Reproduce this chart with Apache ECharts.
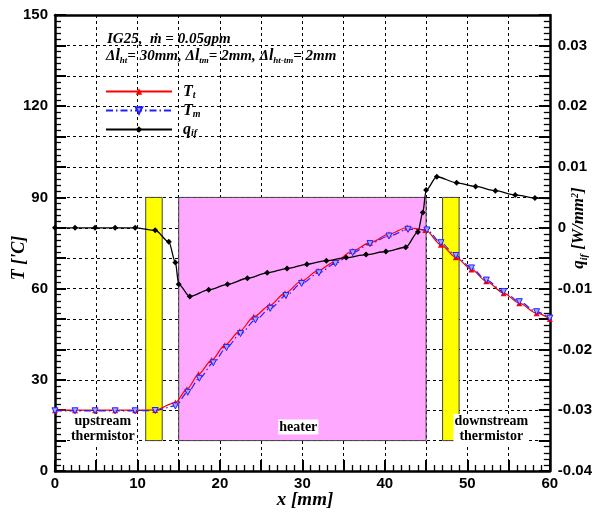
<!DOCTYPE html>
<html>
<head>
<meta charset="utf-8">
<script src="https://cdn.jsdelivr.net/npm/echarts@6/dist/echarts.min.js"></script>
<style>
  html, body { margin: 0; padding: 0; background: #fff; }
  #chart { width: 595px; height: 514px; }
</style>
</head>
<body>
<div id="chart"></div>
<script>
// Axial position along the test section [mm]
const xTt = [0, 2.43, 4.86, 7.29, 9.72, 12.15, 14.6, 16.0, 17.4, 19.0, 20.6, 22.4, 24.1, 26.0, 27.9, 29.9,
             31.9, 33.9, 36.1, 38.2, 40.5, 42.7, 44.9, 46.8, 48.6, 50.5, 52.3, 54.4, 56.3, 58.4, 60.0];
// Tube wall temperature T_t ['C]
const Tt  = [20.0, 20.0, 20.0, 20.0, 20.0, 20.1, 22.5, 26.9, 31.8, 36.5, 41.4, 46.0, 50.7, 54.4, 58.5, 62.5,
             65.9, 68.8, 72.4, 75.1, 77.9, 80.1, 79.3, 74.4, 70.3, 66.3, 62.4, 58.5, 55.2, 51.9, 50.0];

const xTm = [0, 2.43, 4.86, 7.29, 9.72, 12.15, 14.6, 16.1, 17.5, 19.2, 20.8, 22.5, 24.3, 26.1, 28.0, 29.9,
             32.0, 34.0, 36.1, 38.2, 40.5, 42.8, 45.1, 46.8, 48.6, 50.5, 52.3, 54.4, 56.3, 58.4, 60.0];
// Mean fluid temperature T_m ['C]
const Tm  = [19.8, 19.8, 19.8, 19.8, 19.8, 19.9, 21.4, 25.9, 30.5, 35.6, 40.6, 45.2, 49.7, 53.5, 57.7, 61.7,
             65.2, 68.3, 71.8, 74.8, 77.3, 79.5, 79.3, 75.1, 70.9, 66.8, 62.8, 59.0, 55.7, 52.4, 50.3];

const xQ  = [0, 2.43, 4.86, 7.29, 9.72, 12.15, 13.8, 14.6, 15.0, 16.35, 18.64, 20.92, 23.33, 25.73, 28.14,
             30.54, 32.91, 35.31, 37.72, 40.12, 42.53, 44.0, 44.6, 45.0, 46.3, 48.7, 51.0, 53.4, 55.8, 58.2, 60.0];
// Interfacial heat flux q_if [W/mm^2]
const qIf = [0, 0, 0, 0, 0, -0.0004, -0.0023, -0.0057, -0.0093, -0.0113, -0.0102, -0.0093, -0.0083, -0.0074,
             -0.0067, -0.0060, -0.0054, -0.0049, -0.0044, -0.0039, -0.0032, -0.0007, 0.0025, 0.0062, 0.0084,
             0.0074, 0.0068, 0.0061, 0.0054, 0.0049, 0.0048];

// Component extents: [x start, x end] in mm, drawn from T = 10 to 90
const upThermistor   = [11, 13];
const heater         = [15, 45];
const downThermistor = [47, 49];
const blockT         = [10, 90];

const serif = '"Liberation Serif", "Times New Roman", serif';
const sans  = '"Liberation Sans", Arial, sans-serif';

const pairs = (xs, ys) => xs.map((x, i) => [x, ys[i]]);
const qData = pairs(xQ, qIf).map((p, i) => i === xQ.length - 1 ? { value: p, symbol: 'none' } : p);

const rectStyle = color => ({ color: color, borderColor: '#444', borderWidth: 1, opacity: 1 });
const block = (xr, color) => [
  { xAxis: xr[0], yAxis: blockT[0], itemStyle: rectStyle(color) },
  { xAxis: xr[1], yAxis: blockT[1] }
];

const boxLabel = {
  show: true, position: 'inside', color: '#000', fontFamily: serif, fontWeight: 'bold',
  fontSize: 14, lineHeight: 15, backgroundColor: '#fff', padding: [0, 1], align: 'center'
};

const tickLabel = { color: '#000', fontFamily: sans, fontWeight: 'bold', fontSize: 15 };
const frame = { show: true, onZero: false, lineStyle: { color: '#000', width: 2.5 } };
const majorTick = { inside: true, length: 11, lineStyle: { color: '#000', width: 2 } };
const minorTick = { show: true, splitNumber: 5, length: 6, lineStyle: { color: '#000', width: 1.3 } };
const gridLine = { show: true, lineStyle: { color: '#000', width: 1, type: [3, 3] } };

const chart = echarts.init(document.getElementById('chart'), null, { renderer: 'canvas' });

chart.setOption({
  animation: false,
  backgroundColor: '#fff',
  grid: { left: 55, right: 41, top: 15, bottom: 43 },
  xAxis: [{
    type: 'value', min: 0, max: 60, interval: 5,
    axisLine: frame, axisTick: majorTick, minorTick: minorTick,
    axisLabel: Object.assign({ margin: 5, formatter: v => (v % 10 === 0 ? String(v) : '') }, tickLabel),
    splitLine: gridLine
  }, {
    type: 'value', min: 0, max: 60, position: 'top',
    axisLine: frame,
    axisTick: { show: false }, axisLabel: { show: false }, splitLine: { show: false }
  }],
  yAxis: [{
    type: 'value', min: 0, max: 150, interval: 10,
    axisLine: frame, axisTick: majorTick, minorTick: minorTick,
    axisLabel: Object.assign({ margin: 7, formatter: v => (v % 30 === 0 ? String(v) : '') }, tickLabel),
    splitLine: gridLine
  }, {
    type: 'value', min: -0.04, max: 0.035, interval: 0.005, position: 'right',
    axisLine: frame, axisTick: majorTick, minorTick: minorTick,
    axisLabel: Object.assign({
      margin: 8,
      formatter: v => {
        const k = Math.round(v * 1000);
        if (k % 10 !== 0) return '';
        return k === 0 ? '0' : (k / 1000).toFixed(2);
      }
    }, tickLabel),
    splitLine: { show: false }
  }],
  legend: {
    orient: 'vertical', left: 100, top: 78, itemWidth: 66, itemHeight: 8, itemGap: 2,
    data: ['Tt', 'Tm', 'qif'],
    textStyle: {
      padding: [0, 0, 0, 6],
      rich: {
        m: { fontFamily: serif, fontStyle: 'italic', fontWeight: 'bold', fontSize: 16, color: '#000', lineHeight: 16 },
        s: { fontFamily: serif, fontStyle: 'italic', fontWeight: 'bold', fontSize: 10, color: '#000', lineHeight: 16, padding: [7, 0, 0, 0] }
      }
    },
    formatter: name => ({ Tt: '{m|T}{s|t}', Tm: '{m|T}{s|m}', qif: '{m|q}{s|if}' }[name])
  },
  series: [
    {
      name: 'blocks', type: 'line', data: [], z: 1, silent: true,
      markArea: {
        silent: true,
        label: { show: false },
        data: [block(upThermistor, '#ffff00'), block(heater, '#ffa8ff'), block(downThermistor, '#ffff00')]
      },
      markPoint: {
        symbol: 'rect', symbolSize: 0, silent: true,
        label: boxLabel,
        data: [
          { coord: [5.8, 13.8], value: 'upstream\nthermistor', label: { formatter: 'upstream\nthermistor' } },
          { coord: [29.5, 14.5], value: 'heater', label: { formatter: 'heater' } },
          { coord: [52.9, 13.8], value: 'downstream\nthermistor', label: { formatter: 'downstream\nthermistor' } }
        ]
      }
    },
    {
      name: 'Tt', type: 'line', z: 3, data: pairs(xTt, Tt),
      smooth: 0.3, smoothMonotone: 'x',
      symbol: 'triangle', symbolSize: 6,
      itemStyle: { color: '#ff0000' },
      lineStyle: { color: '#ff0000', width: 1.2 }
    },
    {
      name: 'Tm', type: 'line', z: 4, data: pairs(xTm, Tm),
      smooth: 0.3, smoothMonotone: 'x',
      symbol: 'triangle', symbolRotate: 180, symbolSize: 6,
      itemStyle: { color: '#a8a8ff', borderColor: '#2020ff', borderWidth: 1 },
      lineStyle: { color: '#2020ff', width: 1.2, type: [7, 3, 1.5, 3] }
    },
    {
      name: 'qif', type: 'line', z: 5, yAxisIndex: 1, data: qData,
      smooth: 0.3, smoothMonotone: 'x',
      symbol: 'diamond', symbolSize: 6,
      itemStyle: { color: '#000' },
      lineStyle: { color: '#000', width: 1.3 }
    }
  ],
  graphic: [
    {
      type: 'text', left: 107, top: 32, z: 10,
      style: {
        text: 'IG25,  ṁ = 0.05gpm',
        font: 'italic bold 15px ' + serif, fill: '#000'
      }
    },
    {
      type: 'text', left: 106, top: 48, z: 10,
      style: {
        text: '{m|Δ}{l|l}{s|ht}{m|= 30mm, Δ}{l|l}{s|tm}{m|= 2mm, Δ}{l|l}{s|ht-tm}{m|= 2mm}',
        rich: {
          m: { font: 'italic bold 15px ' + serif, fill: '#000' },
          l: { font: 'italic bold 16px ' + serif, fill: '#000' },
          s: { font: 'italic bold 9px ' + serif, fill: '#000', padding: [10, 0, 0, 0] }
        }
      }
    },
    {
      type: 'text', x: 19, y: 258, rotation: Math.PI / 2, z: 10,
      style: {
        text: "T ['C]", align: 'center', verticalAlign: 'middle',
        font: 'italic bold 18px ' + serif, fill: '#000'
      }
    },
    {
      type: 'text', x: 305, y: 500, z: 10,
      style: {
        text: 'x [mm]', align: 'center', verticalAlign: 'middle',
        font: 'italic bold 19px ' + serif, fill: '#000'
      }
    },
    {
      type: 'text', x: 579, y: 228, rotation: Math.PI / 2, z: 10,
      style: {
        text: '{m|q}{s|if}{m| [W/mm}{p|2}{m|]}', align: 'center', verticalAlign: 'middle',
        rich: {
          m: { font: 'italic bold 17px ' + serif, fill: '#000' },
          s: { font: 'italic bold 10px ' + serif, fill: '#000', padding: [10, 0, 0, 0] },
          p: { font: 'italic bold 10px ' + serif, fill: '#000', padding: [0, 0, 8, 0] }
        }
      }
    }
  ]
});
</script>
</body>
</html>
